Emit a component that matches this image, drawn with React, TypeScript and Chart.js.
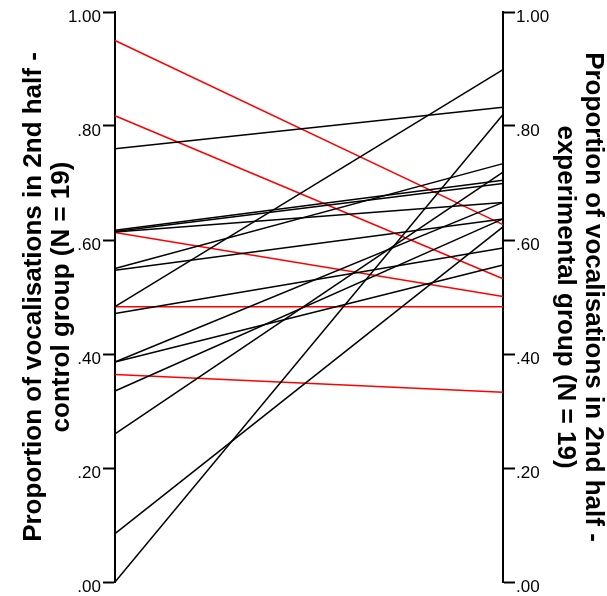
import React, { useEffect, useRef } from "react";
import { Chart, registerables } from "chart.js";

Chart.register(...registerables);

const groups = ["Control", "Experimental"];
const controlProportions = [
  0.76, 0.483, 0.0, 0.085, 0.617, 0.615, 0.614, 0.55, 0.547, 0.471, 0.386, 0.386, 0.335, 0.26,
  0.95, 0.818, 0.613, 0.483, 0.364,
];
const experimentalProportions = [
  0.833, 0.899, 0.82, 0.623, 0.705, 0.699, 0.666, 0.734, 0.637, 0.586, 0.666, 0.556, 0.637, 0.719,
  0.627, 0.532, 0.501, 0.483, 0.333,
];
const yTickValues = [0, 0.2, 0.4, 0.6, 0.8, 1.0];
const leftTitle = ["Proportion of vocalisations in 2nd half -", "control group (N = 19)"];
const rightTitle = ["Proportion of vocalisations in 2nd half -", "experimental group (N = 19)"];

const FONT = "'Liberation Sans', Arial, sans-serif";

const fmt = (v: number) => {
  const s = Number(v).toFixed(2);
  return s.startsWith("0") ? s.slice(1) : s;
};

export default function App() {
  const ref = useRef<HTMLCanvasElement | null>(null);

  useEffect(() => {
    if (!ref.current) return;
    const datasets = controlProportions.map((c, i) => {
      const e = experimentalProportions[i];
      return {
        label: `Pair ${i + 1}`,
        data: [c, e],
        borderColor: e <= c ? "#ff0000" : "#000000",
        borderWidth: 1.5,
        pointRadius: 0,
        pointHoverRadius: 0,
        fill: false,
        tension: 0,
        yAxisID: "yLeft",
      };
    });

    const yAxis = (position: "left" | "right", width: number, title: string[], titlePad: number) => ({
      type: "linear" as const,
      position,
      min: 0,
      max: 1,
      afterBuildTicks: (scale: any) => {
        scale.ticks = yTickValues.map((v) => ({ value: v }));
      },
      afterFit: (scale: any) => {
        scale.width = width;
        scale.paddingTop = 0;
        scale.paddingBottom = 0;
      },
      ticks: {
        autoSkip: false,
        callback: (v: any) => fmt(v),
        color: "#000",
        font: { family: FONT, size: 17 },
        padding: position === "left" ? 2 : 1,
        labelOffset: 5,
      },
      grid: {
        drawOnChartArea: false,
        drawTicks: true,
        tickLength: 12,
        tickWidth: 2,
        tickColor: "#000",
      },
      border: { display: true, color: "#000", width: 2 },
      title: {
        display: true,
        text: title,
        color: "#000",
        font: { family: FONT, size: 26, weight: "bold" as const, lineHeight: 1.06 },
        padding: { top: titlePad, bottom: 0 },
      },
    });

    const chart = new Chart(ref.current, {
      type: "line",
      data: { labels: groups, datasets },
      options: {
        responsive: false,
        animation: false,
        devicePixelRatio: 1,
        layout: { padding: { top: 12, bottom: 14, left: 0, right: 0 } },
        plugins: { legend: { display: false }, tooltip: { enabled: false } },
        scales: {
          x: { type: "category", display: false, offset: false },
          yLeft: yAxis("left", 115, leftTitle, 20.5) as any,
          yRight: yAxis("right", 104, rightTitle, 0.5) as any,
        },
      },
    });
    return () => chart.destroy();
  }, []);

  return (
    <div style={{ position: "fixed", left: 0, top: 0, width: 607, height: 596, background: "#fff" }}>
      <canvas ref={ref} width={607} height={596} style={{ display: "block", width: 607, height: 596 }} />
    </div>
  );
}
